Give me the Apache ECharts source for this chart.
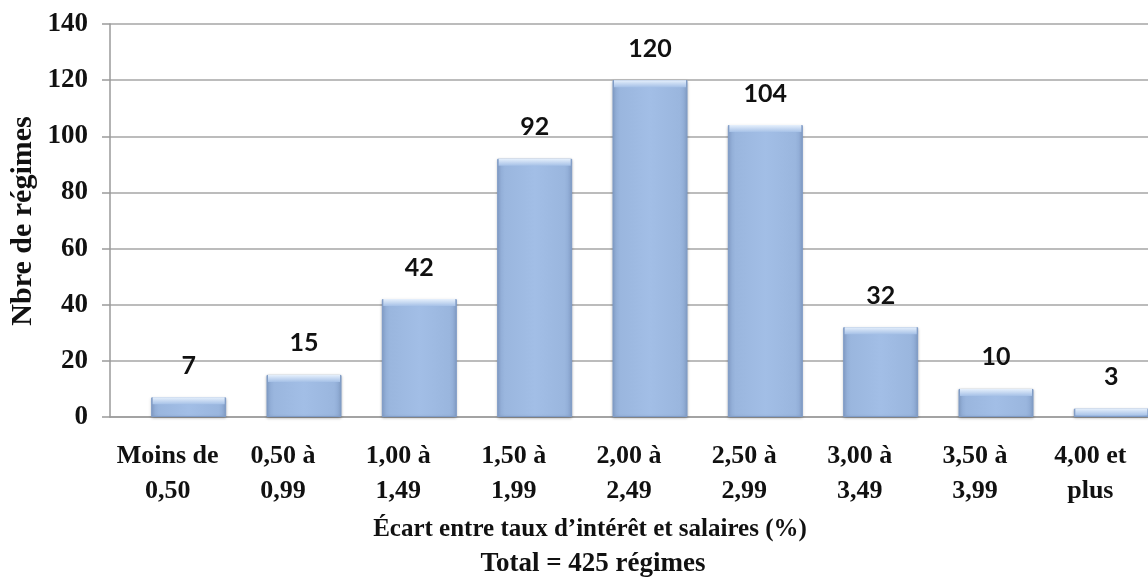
<!DOCTYPE html>
<html><head><meta charset="utf-8">
<script src="https://cdn.jsdelivr.net/npm/echarts@6/dist/echarts.min.js"></script>
<style>html,body{margin:0;padding:0;background:#fff}#c{width:1148px;height:584px}</style>
</head><body><div id="c"></div>
<script>
const categories = ["Moins de\n0,50","0,50 à\n0,99","1,00 à\n1,49","1,50 à\n1,99","2,00 à\n2,49","2,50 à\n2,99","3,00 à\n3,49","3,50 à\n3,99","4,00 et\nplus"];
const values = [7,15,42,92,120,104,32,10,3];
const yTicks = {min:0, max:140, interval:20};
const xTitle = "Écart entre taux d’intérêt et salaires (%)";
const totalText = "Total = 425 régimes";
const yTitle = "Nbre de régimes";

const chart = echarts.init(document.getElementById('c'), null, {renderer:'canvas'});
const serif = '"Liberation Serif", "Times New Roman", serif';
chart.setOption({
  animation:false,
  grid:{left:110, right:-15, top:24, bottom:167, containLabel:false},
  xAxis:{type:'category', data:categories, boundaryGap:true,
    axisLine:{lineStyle:{color:'#9a9a9a', width:1.5}},
    axisTick:{show:false},
    axisLabel:{color:'#111', fontFamily:serif, fontWeight:'bold', fontSize:26, lineHeight:35, margin:22, interval:0}
  },
  yAxis:{type:'value', min:yTicks.min, max:yTicks.max, interval:yTicks.interval,
    axisLine:{show:true, lineStyle:{color:'#9a9a9a', width:1.5}},
    axisTick:{show:true, inside:false, length:8, lineStyle:{color:'#9a9a9a', width:1.5}},
    splitLine:{lineStyle:{color:'#a6a6a6', width:1.5}},
    axisLabel:{color:'#111', fontFamily:serif, fontWeight:'bold', fontSize:27, margin:22}
  },
  series:[
    {type:'bar', name:'pad', data:values.map(()=>null), barWidth:42, barGap:0, silent:true},
    {type:'bar', name:'Nbre', data:values, barWidth:75, barGap:0,
      itemStyle:{
        color:{type:'linear',x:0,y:0,x2:1,y2:0,colorStops:[
          {offset:0,color:'#8aa6d0'},{offset:0.1,color:'#9ab6de'},{offset:0.5,color:'#a2bee6'},{offset:0.9,color:'#9ab6de'},{offset:1,color:'#8aa6d0'}]},
        borderColor:'#7f9cc8', borderWidth:1,
        shadowColor:'rgba(0,0,0,0.25)', shadowBlur:3, shadowOffsetY:1
      },
      label:{show:true, position:'top', distance:19, color:'#111', fontFamily:'Lato, "Open Sans", sans-serif', fontWeight:'bold', fontSize:25}
    },
    {type:'pictorialBar', name:'bevel', data:values, symbol:'rect', symbolSize:[72,7], symbolPosition:'end', symbolOffset:[21,0],
      silent:true, z:5,
      itemStyle:{color:{type:'linear',x:0,y:0,x2:0,y2:1,colorStops:[{offset:0,color:'#e6f0fc'},{offset:1,color:'#a6c1e7'}]}}
    }
  ],
  graphic:[
    {type:'text', x:590, y:530, style:{text:xTitle, font:'bold 25px '+serif, fill:'#111', align:'center', verticalAlign:'middle'}},
    {type:'text', x:593, y:564, style:{text:totalText, font:'bold 27px '+serif, fill:'#111', align:'center', verticalAlign:'middle'}},
    {type:'text', x:23, y:221, rotation:Math.PI/2, style:{text:yTitle, font:'bold 30px '+serif, fill:'#111', align:'center', verticalAlign:'middle'}}
  ]
});
</script></body></html>
